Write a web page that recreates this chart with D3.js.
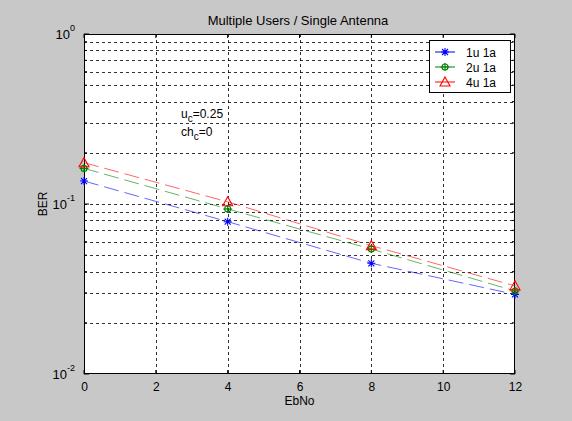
<!DOCTYPE html>
<html><head><meta charset="utf-8">
<script src="https://cdn.jsdelivr.net/npm/d3@7"></script>
<style>body{margin:0;background:#c8c8c8;} svg{display:block;font-family:"Liberation Sans",Arial,sans-serif;}</style>
</head><body>
<svg id="c" width="572" height="421"></svg>
<script>
const ebno = [0, 4, 8, 12];
const ber1u = [0.1365, 0.0787, 0.0448, 0.0294];
const ber2u = [0.162, 0.0935, 0.0543, 0.0308];
const ber4u = [0.175, 0.103, 0.0569, 0.033];
const seriesNames = ["1u 1a", "2u 1a", "4u 1a"];
const seriesColors = ["#0000ff", "#008000", "#ff0000"];
const xTicks = [0, 2, 4, 6, 8, 10, 12];
const yTicks = [0.01, 0.1, 1];
const yTickExp = ["-2", "-1", "0"];

const svg = d3.select("#c");
const L = 84, R = 515, T = 34, B = 374;
const x = d3.scaleLinear().domain([0, 12]).range([L, R]);
const y = d3.scaleLog().domain([0.01, 1]).range([B, T]);

svg.append("rect").attr("width", 572).attr("height", 421).attr("fill", "#c8c8c8");
svg.append("rect").attr("x", L).attr("y", T).attr("width", R - L).attr("height", B - T).attr("fill", "#fff");

// grid
const minor = [];
for (let d = -2; d < 0; d++) for (let k = 1; k <= 9; k++) minor.push(k * Math.pow(10, d));
minor.push(1);
const g = svg.append("g");
minor.forEach(v => {
  if (v === 0.01 || v === 1) return;
  g.append("line").attr("x1", L).attr("x2", R).attr("y1", Math.round(y(v)) + 0.5).attr("y2", Math.round(y(v)) + 0.5)
    .attr("stroke", "#000").attr("stroke-dasharray", "3,3").attr("stroke-width", 1).attr("opacity", 0.8);
});
xTicks.slice(1, -1).forEach(v => {
  g.append("line").attr("y1", T).attr("y2", B).attr("x1", Math.round(x(v)) + 0.5).attr("x2", Math.round(x(v)) + 0.5)
    .attr("stroke", "#000").attr("stroke-dasharray", "3,3").attr("stroke-width", 1).attr("opacity", 0.8);
});

// axes
const xAx = d3.axisBottom(x).tickValues(xTicks).tickSize(0).tickPadding(8);
const xg = svg.append("g").attr("transform", `translate(0,${B})`).call(xAx);
xg.select(".domain").remove();
xg.selectAll("text").attr("font-size", 12).attr("fill", "#000").attr("font-family", "Liberation Sans, Arial, sans-serif");
xTicks.forEach(v => {
  svg.append("line").attr("x1", x(v)).attr("x2", x(v)).attr("y1", B).attr("y2", B - 4).attr("stroke", "#000");
  svg.append("line").attr("x1", x(v)).attr("x2", x(v)).attr("y1", T).attr("y2", T + 4).attr("stroke", "#000");
});
minor.forEach(v => {
  const len = yTicks.includes(v) ? 5 : 3;
  svg.append("line").attr("x1", L).attr("x2", L + len).attr("y1", y(v)).attr("y2", y(v)).attr("stroke", "#000");
  svg.append("line").attr("x1", R).attr("x2", R - len).attr("y1", y(v)).attr("y2", y(v)).attr("stroke", "#000");
});
const yl = svg.append("g");
yTicks.forEach((v, i) => {
  const t = yl.append("text").attr("x", L - 9).attr("y", y(v) + 5).attr("text-anchor", "end").attr("font-size", 13);
  t.append("tspan").text("10");
  t.append("tspan").attr("dy", -8).attr("font-size", 9).text(yTickExp[i]);
});
svg.append("rect").attr("x", L + 0.5).attr("y", T + 0.5).attr("width", R - L - 1).attr("height", B - T - 1)
  .attr("fill", "none").attr("stroke", "#000").attr("stroke-width", 1);

// title & labels
svg.append("text").attr("x", 298).attr("y", 25).attr("text-anchor", "middle").attr("font-size", 13).text("Multiple Users / Single Antenna");
svg.append("text").attr("x", (L + R) / 2).attr("y", 405).attr("text-anchor", "middle").attr("font-size", 12).text("EbNo");
svg.append("text").attr("transform", `translate(47,${(T + B) / 2}) rotate(-90)`).attr("text-anchor", "middle").attr("font-size", 12).text("BER");

// annotation
const a1 = svg.append("text").attr("x", 181).attr("y", 118).attr("font-size", 12);
a1.append("tspan").text("u");
a1.append("tspan").attr("dy", 4).attr("font-size", 10).text("c");
a1.append("tspan").attr("dy", -4).text("=0.25");
const a2 = svg.append("text").attr("x", 181).attr("y", 136).attr("font-size", 12);
a2.append("tspan").text("ch");
a2.append("tspan").attr("dy", 4).attr("font-size", 10).text("c");
a2.append("tspan").attr("dy", -4).text("=0");

// series
const all = [ber1u, ber2u, ber4u];
const line = d3.line().x((d, i) => x(ebno[i])).y(d => y(d));
function marker(sel, type, color, cx, cy) {
  const m = sel.append("g").attr("transform", `translate(${cx},${cy})`).attr("stroke", color).attr("stroke-width", 1.1);
  if (type === 0) {
    m.append("path").attr("fill", "none").attr("d", "M-4,0H4M0,-4V4M-3,-3L3,3M-3,3L3,-3");
  } else if (type === 1) {
    m.append("circle").attr("r", 3).attr("fill", "none");
    m.append("path").attr("fill", "none").attr("d", "M-4.5,0H4.5M0,-4V4");
  } else {
    m.append("path").attr("fill", "none").attr("d", "M0,-5L5,4H-5Z");
  }
}
all.forEach((s, k) => {
  svg.append("path").datum(s).attr("d", line).attr("fill", "none").attr("stroke", seriesColors[k])
    .attr("stroke-dasharray", "15,6").attr("stroke-width", 1).attr("opacity", 0.6);
  s.forEach((v, i) => marker(svg, k, seriesColors[k], x(ebno[i]), y(v)));
});

// legend
const lg = svg.append("g");
lg.append("rect").attr("x", 429.5).attr("y", 40.5).attr("width", 81).attr("height", 52).attr("fill", "#fff").attr("stroke", "#000");
seriesNames.forEach((n, k) => {
  const ly = 52 + k * 15;
  lg.append("line").attr("x1", 435).attr("x2", 455).attr("y1", ly).attr("y2", ly).attr("stroke", seriesColors[k]);
  marker(lg, k, seriesColors[k], 445, ly);
  lg.append("text").attr("x", 466).attr("y", ly + 4.5).attr("font-size", 12).text(n);
});
</script>
</body></html>
